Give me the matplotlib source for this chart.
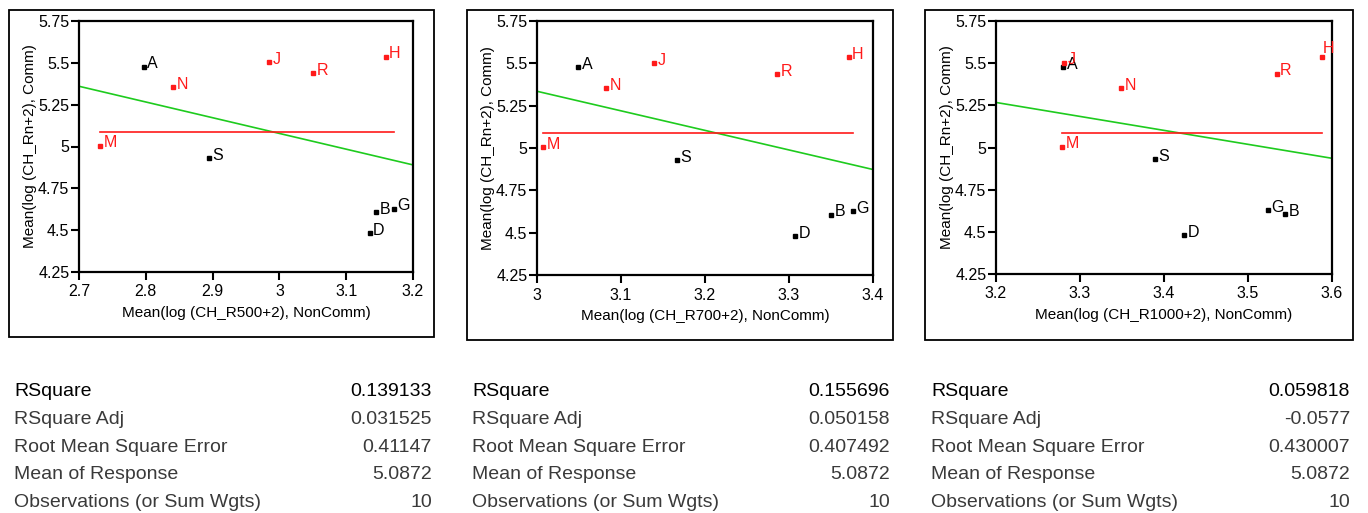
import numpy as np
import matplotlib
matplotlib.use('Agg')
import matplotlib.pyplot as plt
from matplotlib.patches import Rectangle
from matplotlib.ticker import FuncFormatter

plt.rcParams['font.family'] = ['Liberation Sans', 'DejaVu Sans']

# points (same order in every panel)
labels = ['A', 'N', 'J', 'R', 'H', 'M', 'S', 'B', 'G', 'D']
is_red = [False, True, True, True, True, True, False, False, False, False]
comm = [5.478, 5.353, 5.503, 5.438, 5.537, 5.005, 4.929, 4.607, 4.629, 4.481]

x_r500 = [2.797, 2.841, 2.985, 3.051, 3.159, 2.732, 2.895, 3.145, 3.171, 3.135]
x_r700 = [3.049, 3.082, 3.139, 3.286, 3.371, 3.007, 3.167, 3.350, 3.376, 3.307]
x_r1000 = [3.280, 3.349, 3.281, 3.534, 3.588, 3.279, 3.389, 3.544, 3.524, 3.424]

xlabels = ['Mean(log (CH_R500+2), NonComm)',
           'Mean(log (CH_R700+2), NonComm)',
           'Mean(log (CH_R1000+2), NonComm)']
xlims = [(2.7, 3.2), (3.0, 3.4), (3.2, 3.6)]
# fitted line read at the left / right axis limits
fit_ends = [(5.36, 4.89), (5.335, 4.873), (5.267, 4.936)]
mean_resp = 5.0872

stat_names = ['RSquare', 'RSquare Adj', 'Root Mean Square Error',
              'Mean of Response', 'Observations (or Sum Wgts)']
stats_r500 = ['0.139133', '0.031525', '0.41147', '5.0872', '10']
stats_r700 = ['0.155696', '0.050158', '0.407492', '5.0872', '10']
stats_r1000 = ['0.059818', '-0.0577', '0.430007', '5.0872', '10']

W, H = 1368, 513
fig = plt.figure(figsize=(W / 100, H / 100), dpi=100)

# pixel boxes: frame (l, t, r, b), axes (l, t, r, b), stats (left x, right x)
frames = [(9, 10, 434, 337), (467, 10, 893, 340), (925, 10, 1353, 340)]
axboxes = [(79, 21, 413, 272), (537, 21, 873, 275), (996, 21, 1332, 274)]
statx = [(14, 432), (472, 890), (931, 1350)]

xs_all = [x_r500, x_r700, x_r1000]
stats_all = [stats_r500, stats_r700, stats_r1000]
green = '#1ecb1e'
red = '#ff1a1a'

for i in range(3):
    fl, ft, fr, fb = frames[i]
    fig.add_artist(Rectangle((fl / W, 1 - fb / H), (fr - fl) / W, (fb - ft) / H,
                             transform=fig.transFigure, fill=False,
                             edgecolor='black', linewidth=1.3))
    l, t, r, b = axboxes[i]
    ax = fig.add_axes([l / W, 1 - b / H, (r - l) / W, (b - t) / H])
    xs = xs_all[i]
    x0, x1 = xlims[i]

    # fit line and mean line
    ax.plot([x0, x1], fit_ends[i], color=green, lw=1.2, zorder=2)
    ax.plot([min(xs), max(xs)], [mean_resp, mean_resp], color=red, lw=1.2, zorder=2)

    for lab, x, y, rd in zip(labels, xs, comm, is_red):
        c = red if rd else 'black'
        ax.plot(x, y, 's', color=c, markersize=2.6, zorder=3)
        off = (2.5, 2)
        if i == 2 and lab == 'H':
            off = (0.5, 6)
        ax.annotate(lab, (x, y), xytext=off, textcoords='offset points',
                    color=c, fontsize=11.5, va='center', ha='left', zorder=4,
                    annotation_clip=False)

    ax.set_xlim(x0, x1)
    ax.set_ylim(4.25, 5.75)
    ax.set_xticks(np.arange(x0, x1 + 0.001, 0.1))
    ax.set_yticks([4.25, 4.5, 4.75, 5.0, 5.25, 5.5, 5.75])
    fmt = FuncFormatter(lambda v, p: '%g' % round(v, 2))
    ax.xaxis.set_major_formatter(fmt)
    ax.yaxis.set_major_formatter(fmt)
    ax.tick_params(direction='out', length=6, width=1.5, labelsize=11.5, pad=1)
    ax.tick_params(axis='x', pad=3)
    for s in ax.spines.values():
        s.set_linewidth(1.6)
    ax.set_xlabel(xlabels[i], fontsize=11, labelpad=5)
    ax.set_ylabel('Mean(log (CH_Rn+2), Comm)', fontsize=11, labelpad=1)

    # summary of fit table
    lx, rx = statx[i]
    for k, (name, val) in enumerate(zip(stat_names, stats_all[i])):
        yb = 396 + k * 27.8
        col = 'black' if k == 0 else '#3a3a3a'
        fig.text(lx / W, 1 - yb / H, name, fontsize=14, color=col,
                 ha='left', va='baseline')
        fig.text(rx / W, 1 - yb / H, val, fontsize=14, color=col,
                 ha='right', va='baseline')

fig.savefig('out.png', dpi=100)
